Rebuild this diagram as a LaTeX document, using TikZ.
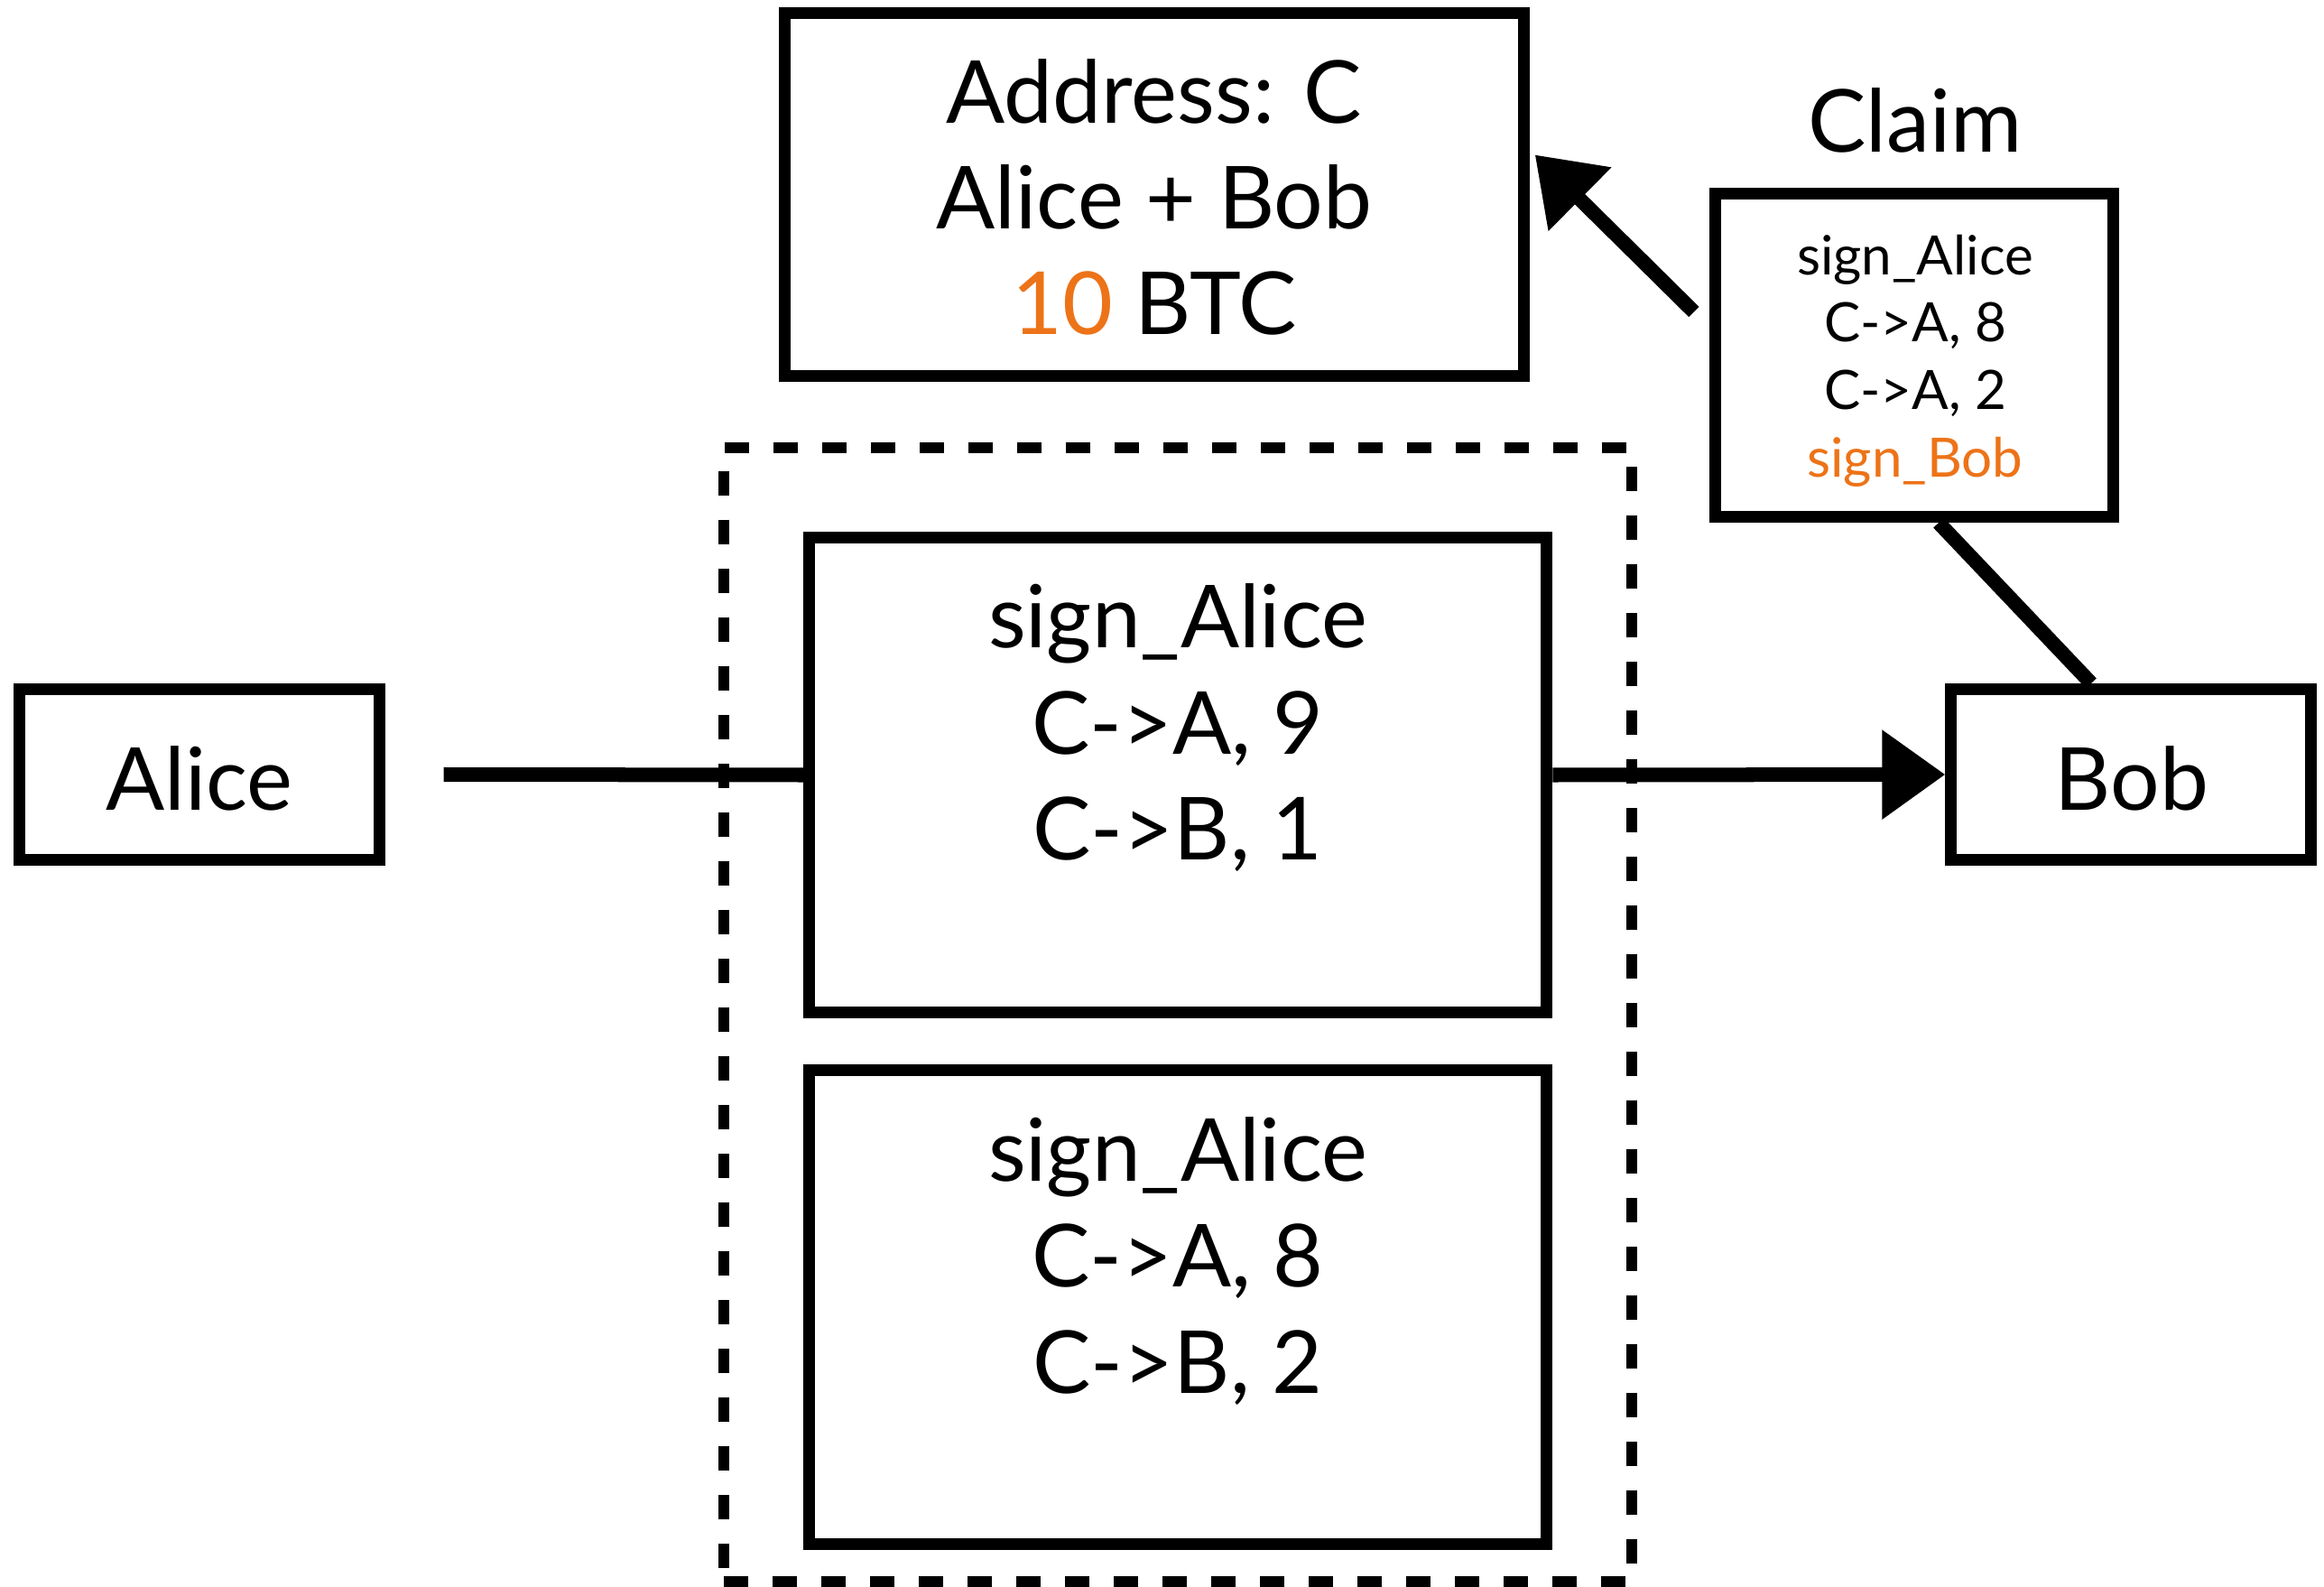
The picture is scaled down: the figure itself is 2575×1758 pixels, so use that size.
\documentclass[tikz,border=0pt]{standalone}
\usepackage{fontspec}
\setmainfont{Lato}
\usetikzlibrary{arrows.meta,calc}
\definecolor{keyorange}{RGB}{237,115,24}
\begin{document}
\begin{tikzpicture}[x=0.01cm,y=-0.01cm,
  box/.style={draw, line width=0.13cm, rectangle, inner sep=0pt},
  grpbox/.style={draw, line width=0.12cm, dash pattern=on 0.27cm off 0.27cm, inner sep=0pt},
  bigtxt/.style={font=\fontsize{27.4pt}{33.4pt}\selectfont, align=center, anchor=base, inner sep=0pt},
  smalltxt/.style={font=\fontsize{17.1pt}{21.2pt}\selectfont, align=center, anchor=base, inner sep=0pt},
  chalk/.style={line width=0.16cm},
  chalkarrow/.style={chalk, -{Triangle[length=0.7cm,width=0.95cm]}}
]
\useasboundingbox (0,0) rectangle (2575,1758);
\fill[white] (0,0) rectangle (2575,1758);

% boxes
\node[box, minimum width=8.18cm, minimum height=4.01cm] (addr) at (1279,215.5) {};
\node[box, minimum width=4.41cm, minimum height=3.58cm] (claim) at (2121,393.5) {};
\node[grpbox, minimum width=10.06cm, minimum height=12.56cm] (grp) at (1305,1124) {};
\node[box, minimum width=8.17cm, minimum height=5.26cm] (b1) at (1305,858.5) {};
\node[box, minimum width=8.17cm, minimum height=5.24cm] (b2) at (1305,1448) {};
\node[box, minimum width=3.98cm, minimum height=1.89cm] (alice) at (221,858) {};
\node[box, minimum width=3.98cm, minimum height=1.89cm] (bob) at (2361,858) {};

% texts (base anchor = baseline of the last line)
\node[bigtxt] (addrtxt) at (1279,371) {Address: C\\Alice + Bob\\{\color{keyorange}10} BTC};
\node[bigtxt] (claimlbl) at (2122,169) {Claim};
\node[smalltxt] (claimtxt) at (2122,528) {sign\_Alice\\C->A, 8\\C->A, 2\\{\color{keyorange}sign\_Bob}};
\node[bigtxt] (b1txt) at (1305,952.5) {sign\_Alice\\C->A, 9\\C->B, 1};
\node[bigtxt] (b2txt) at (1305,1543) {sign\_Alice\\C->A, 8\\C->B, 2};
\node[bigtxt] (alicetxt) at (221,897) {Alice};
\node[bigtxt] (bobtxt) at (2362,897) {Bob};

% connectors
\draw[chalk] ($(alice.east)+(65,0)$) -- (b1.west);
\draw[chalkarrow] (b1.east) -- (bob.west);
\draw[chalk] ($(bob.north)+(-44,0)$) -- ($(claim.south)+(27,0)$);
\draw[chalkarrow] ($(claim.west)+(-17,-48)$) -- ($(addr.east)+(6,-44)$);
\end{tikzpicture}
\end{document}
